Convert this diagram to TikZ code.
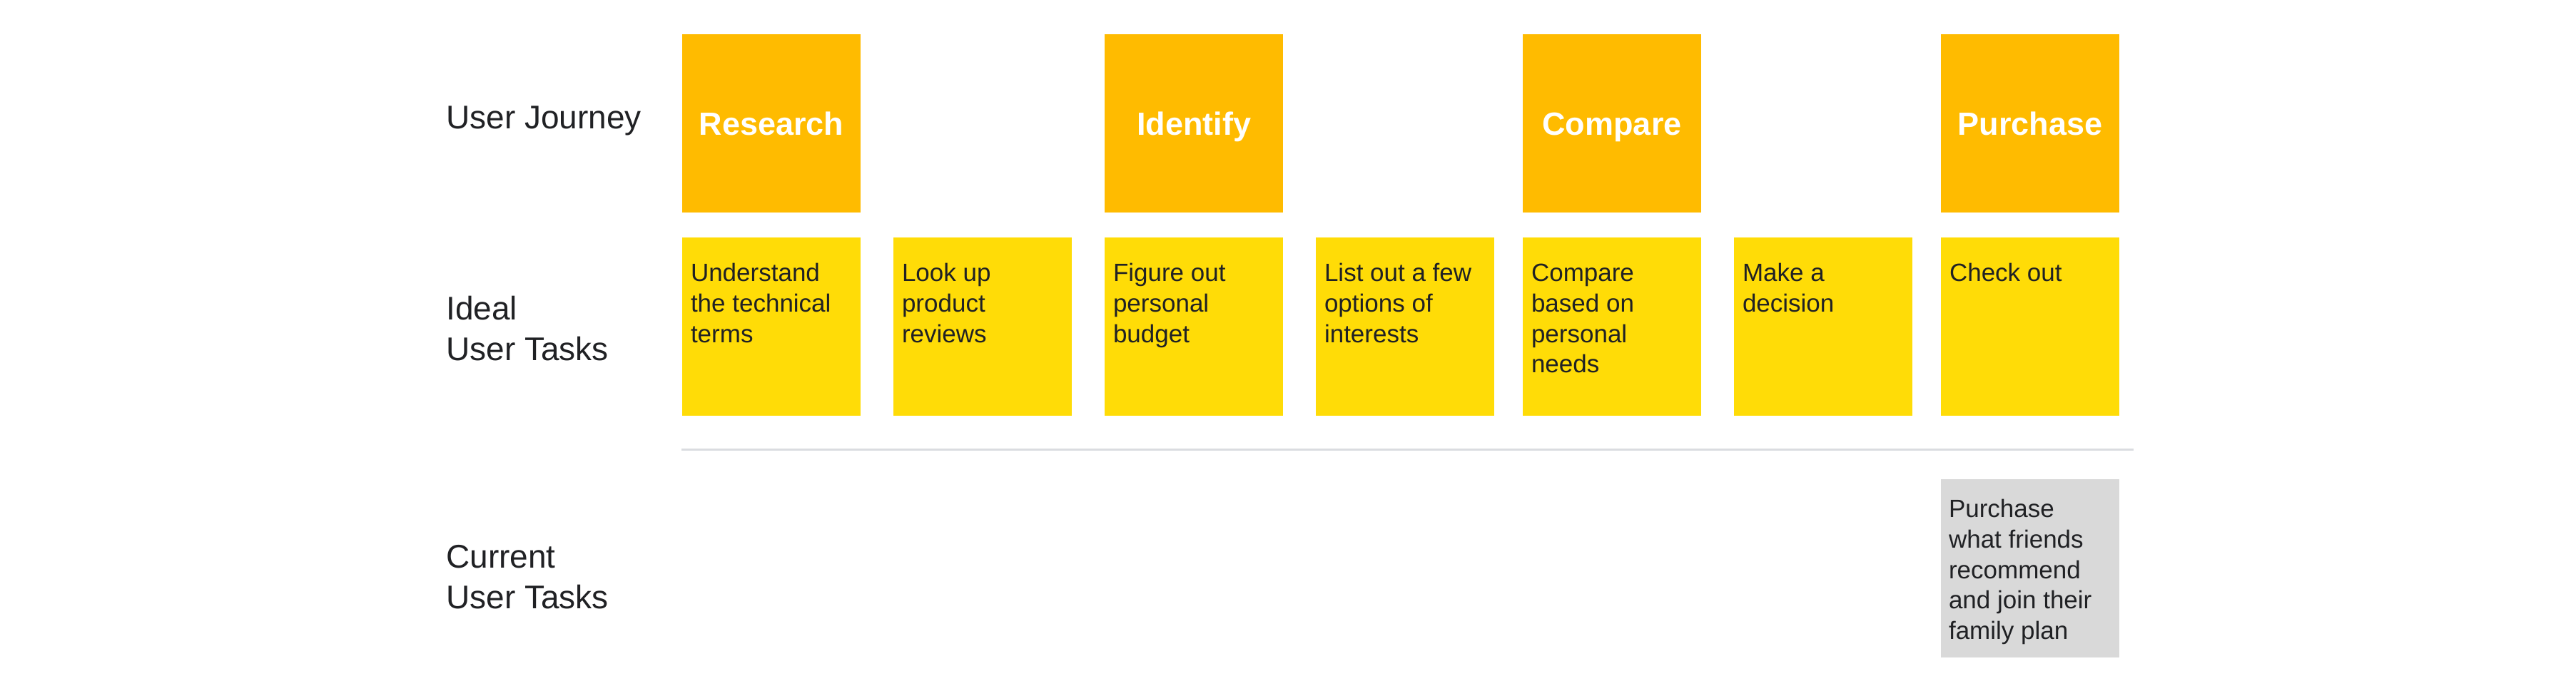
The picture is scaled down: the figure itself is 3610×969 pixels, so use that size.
\documentclass[tikz,border=0pt]{standalone}
\usepackage{fontspec}
\setmainfont{Liberation Sans}
\definecolor{journeyc}{HTML}{FFBB00}
\definecolor{taskc}{HTML}{FFDC07}
\definecolor{currentc}{HTML}{D9D9D9}
\definecolor{inkc}{HTML}{202124}
\definecolor{rulec}{HTML}{DADCE0}
\newcommand\tasklines[1]{\parbox[t]{120pt}{\raggedright #1}}
\newcommand\rowlines[1]{\parbox[t]{200pt}{\raggedright #1}}
\begin{document}
\begin{tikzpicture}[x=0.5pt,y=-0.5pt,
  journey/.style={fill=journeyc, draw=none, minimum width=125pt, minimum height=125pt,
    inner sep=0pt, text=white, font=\fontsize{22.5pt}{27pt}\selectfont\bfseries,
    text height=16.2pt, text depth=0pt},
  taskbox/.style={fill=taskc, draw=none, minimum width=125pt, minimum height=125pt, inner sep=0pt},
  currentbox/.style={fill=currentc, draw=none, minimum width=125pt, minimum height=125pt, inner sep=0pt},
  tasktext/.style={anchor=base west, inner sep=0pt, text=inkc,
    font=\fontsize{17.5pt}{21.35pt}\selectfont},
  rowlabel/.style={anchor=base west, inner sep=0pt, text=inkc,
    font=\fontsize{23pt}{28.75pt}\selectfont},
  divider/.style={draw=rulec, line width=1.5pt}
]
\useasboundingbox[fill=white] (0,0) rectangle (3610,969);

% row labels
\node[rowlabel] (lj) at (625,180) {\rowlines{User Journey}};
\node[rowlabel] (li) at (625,448) {\rowlines{Ideal\\User Tasks}};
\node[rowlabel] (lc) at (625,796) {\rowlines{Current\\User Tasks}};

% user journey
\node[journey] (research) at (1081,173) {Research};
\node[journey] (identify) at (1673,173) {Identify};
\node[journey] (compare) at (2259,173) {Compare};
\node[journey] (purchase) at (2845,173) {Purchase};

% ideal user tasks
\node[taskbox] (t1) at (1081,458) {};
\node[taskbox] (t2) at (1377,458) {};
\node[taskbox] (t3) at (1673,458) {};
\node[taskbox] (t4) at (1969,458) {};
\node[taskbox] (t5) at (2259,458) {};
\node[taskbox] (t6) at (2555,458) {};
\node[taskbox] (t7) at (2845,458) {};

\node[tasktext] (t1x) at ([shift={(12,62)}]t1.north west) {\tasklines{Understand\\the technical\\terms}};
\node[tasktext] (t2x) at ([shift={(12,62)}]t2.north west) {\tasklines{Look up\\product\\reviews}};
\node[tasktext] (t3x) at ([shift={(12,62)}]t3.north west) {\tasklines{Figure out\\personal\\budget}};
\node[tasktext] (t4x) at ([shift={(12,62)}]t4.north west) {\tasklines{List out a few\\options of\\interests}};
\node[tasktext] (t5x) at ([shift={(12,62)}]t5.north west) {\tasklines{Compare\\based on\\personal\\needs}};
\node[tasktext] (t6x) at ([shift={(12,62)}]t6.north west) {\tasklines{Make a\\decision}};
\node[tasktext] (t7x) at ([shift={(12,62)}]t7.north west) {\tasklines{Check out}};

% divider
\coordinate (dl) at (955,630);
\coordinate (dr) at (2990,630);
\draw[divider] (dl) -- (dr);

% current user tasks
\node[currentbox] (c7) at (2845,797) {};
\node[tasktext] (c7x) at ([shift={(11,54)}]c7.north west) {\tasklines{Purchase\\what friends\\recommend\\and join their\\family plan}};
\end{tikzpicture}
\end{document}
